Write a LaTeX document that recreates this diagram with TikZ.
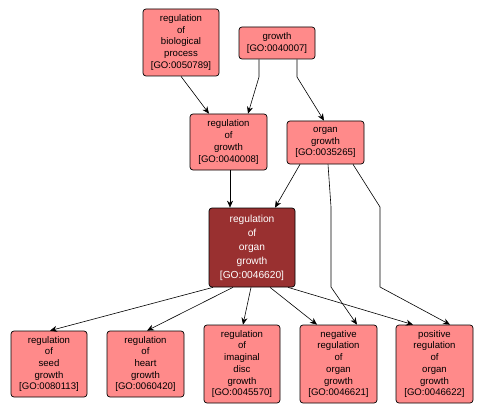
\documentclass[tikz,border=0pt]{standalone}
\usepackage{fontspec}
\setmainfont{Liberation Sans}
\usetikzlibrary{positioning,arrows.meta}
\definecolor{termfill}{RGB}{255,138,138}
\definecolor{focusfill}{RGB}{153,48,48}

\begin{document}
\begin{tikzpicture}[x=1pt, y=-1pt,
    goterm/.style={draw=black, fill=termfill, rounded corners=3pt, inner sep=0pt, align=center,
      font=\fontsize{9.6}{11.7}\selectfont, line width=0.7pt},
    focusterm/.style={goterm, fill=focusfill, text=white, font=\fontsize{10.2}{14}\selectfont},
    goedge/.style={-{Stealth[length=7pt, width=6pt]}, line width=0.6pt}]
    % Page frame
    \useasboundingbox (0, 0) rectangle (486, 414);

    % Top terms
    \node[goterm, minimum width=76, minimum height=67] (bioproc) at (181, 42.5)
        {regulation\\of\\biological\\process\\{[GO:0050789]}};
    \node[goterm, minimum width=76, minimum height=32] (growth) at (277, 43)
        {growth\\{[GO:0040007]}};

    % Middle terms
    \node[goterm, minimum width=77, minimum height=56] (reggrowth) at (228.5, 142)
        {regulation\\of\\growth\\{[GO:0040008]}};
    \node[goterm, minimum width=77, minimum height=43] (organgrowth) at (325.5, 142.5)
        {organ\\growth\\{[GO:0035265]}};

    % Focus term
    \node[focusterm, minimum width=86, minimum height=79] (regorgan) at (252, 247.5)
        {regulation\\of\\organ\\growth\\{[GO:0046620]}};

    % Child terms
    \node[goterm, minimum width=76, minimum height=66] (seed) at (49, 364)
        {regulation\\of\\seed\\growth\\{[GO:0080113]}};
    \node[goterm, minimum width=77, minimum height=66] (heart) at (145.5, 364)
        {regulation\\of\\heart\\growth\\{[GO:0060420]}};
    \node[goterm, minimum width=76, minimum height=78] (disc) at (242, 364)
        {regulation\\of\\imaginal\\disc\\growth\\{[GO:0045570]}};
    \node[goterm, minimum width=77, minimum height=78] (negorgan) at (338.5, 364)
        {negative\\regulation\\of\\organ\\growth\\{[GO:0046621]}};
    \node[goterm, minimum width=77, minimum height=78] (posorgan) at (434.5, 364)
        {positive\\regulation\\of\\organ\\growth\\{[GO:0046622]}};

    % Bend points
    \coordinate (gbendl) at (259, 77);
    \coordinate (gbendr) at (297, 77);
    \coordinate (negbendA) at (331, 207);
    \coordinate (negbendB) at (331, 287);
    \coordinate (posbendA) at (380, 207);
    \coordinate (posbendB) at (380, 287);

    % Edges to the middle row
    \draw[goedge] (bioproc.south) -- ([xshift=-19.5]reggrowth.north);
    \draw[goedge] ([xshift=-18]growth.south) -- (gbendl) -- ([xshift=19.5]reggrowth.north);
    \draw[goedge] ([xshift=20]growth.south) -- (gbendr) -- ([xshift=-1.5]organgrowth.north);

    % Edges to the focus term
    \draw[goedge] ([xshift=1.5]reggrowth.south) -- ([xshift=-22]regorgan.north);
    \draw[goedge] ([xshift=-25.5]organgrowth.south) -- ([xshift=23]regorgan.north);

    % Edges past the focus term
    \draw[goedge] ([xshift=2.5]organgrowth.south) -- (negbendA) -- (negbendB) -- ([xshift=18.5]negorgan.north);
    \draw[goedge] ([xshift=27.5]organgrowth.south) -- (posbendA) -- (posbendB) -- ([xshift=15.5]posorgan.north);

    % Edges to the children
    \draw[goedge] ([xshift=-39]regorgan.south) -- ([xshift=1]seed.north);
    \draw[goedge] ([xshift=-19]regorgan.south) -- ([xshift=1.5]heart.north);
    \draw[goedge] ([xshift=-1]regorgan.south) -- ([xshift=1]disc.north);
    \draw[goedge] ([xshift=18]regorgan.south) -- ([xshift=-21.5]negorgan.north);
    \draw[goedge] ([xshift=36]regorgan.south) -- ([xshift=-21.5]posorgan.north);
\end{tikzpicture}
\end{document}
